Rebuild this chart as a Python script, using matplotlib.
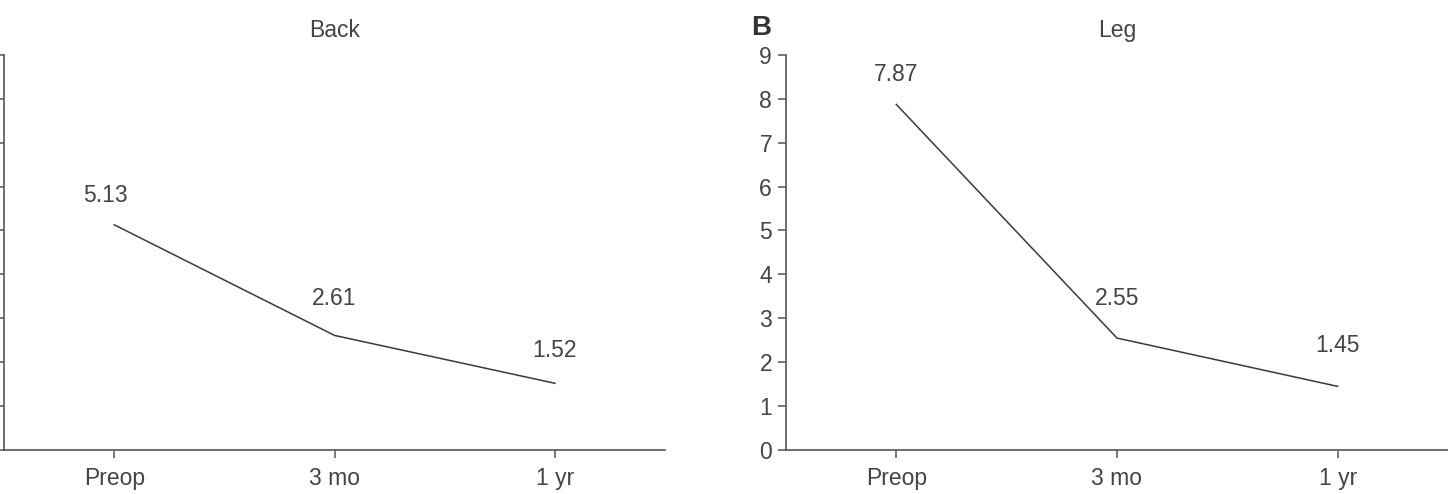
import matplotlib
matplotlib.use("Agg")
import matplotlib.pyplot as plt

# Données
timepoints = ["Preop", "3 mo", "1 yr"]
back_scores = [5.13, 2.61, 1.52]
leg_scores = [7.87, 2.55, 1.45]
panel_titles = ["Back", "Leg"]

# décalages des étiquettes (en points)
back_offsets = [(-6, 13), (0, 18), (0, 15)]
leg_offsets = [(0, 13.5), (0, 20), (0, 21)]

plt.rcParams['font.family'] = ['Liberation Sans', 'DejaVu Sans']
grey = '#555555'
txt = '#444444'

fig = plt.figure(figsize=(14.48, 4.94), dpi=100)
ax1 = fig.add_axes([0.0028, 0.089, 0.4565, 0.80])
ax2 = fig.add_axes([0.5428, 0.089, 0.4572, 0.80])

for ax, scores, offsets, title in [(ax1, back_scores, back_offsets, panel_titles[0]),
                                   (ax2, leg_scores, leg_offsets, panel_titles[1])]:
    x = list(range(len(timepoints)))
    ax.plot(x, scores, color='#3a3a3a', linewidth=1.1)
    for xi, v, off in zip(x, scores, offsets):
        ax.annotate(f"{v:.2f}", (xi, v), xytext=off, textcoords='offset points',
                    ha='center', va='bottom', fontsize=16.5, color=txt)
    ax.set_xlim(-0.5, 2.5)
    ax.set_ylim(0, 9)
    ax.set_yticks(range(10))
    ax.set_xticks(x)
    ax.set_xticklabels(timepoints)
    for s in ['top', 'right']:
        ax.spines[s].set_visible(False)
    for s in ['left', 'bottom']:
        ax.spines[s].set_color(grey)
        ax.spines[s].set_linewidth(1.2)
    ax.tick_params(axis='both', direction='out', length=6, width=1.1, color=grey,
                   labelcolor=txt)
    ax.tick_params(axis='y', labelsize=16.5, pad=4)
    ax.tick_params(axis='x', labelsize=16.5, pad=6)
    ax.set_title(title, fontsize=16.5, color=txt, pad=13)

# panneau gauche : étiquettes de l'axe y hors du cadre dans l'original
ax1.tick_params(axis='y', labelleft=False)

fig.text(0.5255, 0.943, "B", fontsize=20, fontweight='bold', color='#333333',
         ha='center', va='center')

fig.savefig("out.png", dpi=100)
